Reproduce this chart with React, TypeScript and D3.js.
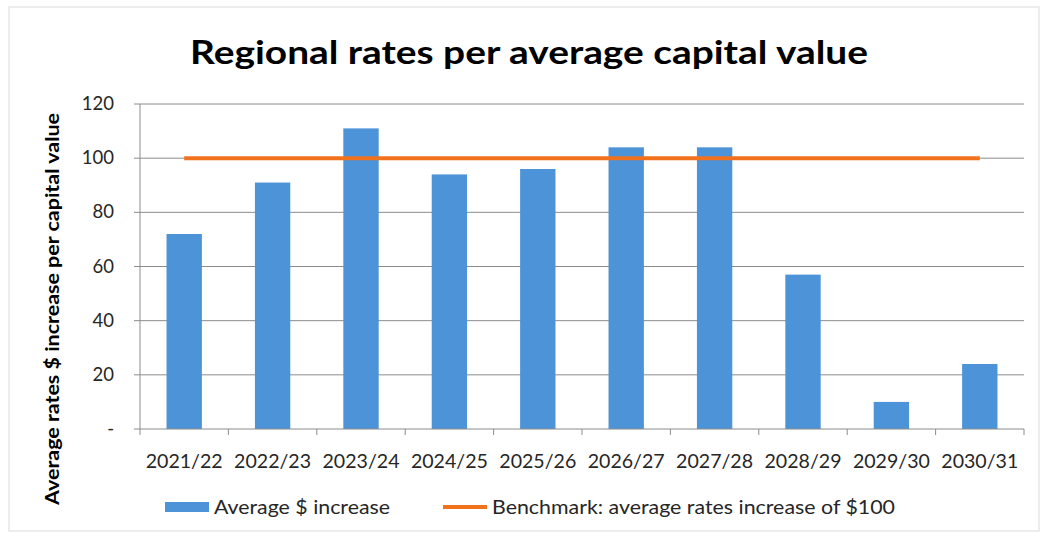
import React from "react";
import * as d3 from "d3";

const categories = ["2021/22", "2022/23", "2023/24", "2024/25", "2025/26", "2026/27", "2027/28", "2028/29", "2029/30", "2030/31"];
const averageIncrease = [72, 91, 111, 94, 96, 104, 104, 57, 10, 24];
const benchmark = [100, 100, 100, 100, 100, 100, 100, 100, 100, 100];
const yTicks = [0, 20, 40, 60, 80, 100, 120];
const titleText = "Regional rates per average capital value";
const yAxisTitle = "Average rates $ increase per capital value";
const legendLabels = ["Average $ increase", "Benchmark: average rates increase of $100"];

const W = 1042;
const H = 537;
const plot = { left: 140, right: 1024, top: 104, bottom: 429 };
const FONT = "Lato, 'Open Sans', sans-serif";
const BLUE = "#4d93d8";
const ORANGE = "#f0721d";
const TEXT = "#262626";

export default function App() {
  const x = d3.scaleBand<string>().domain(categories).range([plot.left, plot.right]).paddingInner(0.6).paddingOuter(0.3);
  const xb = d3.scaleBand<string>().domain(categories).range([plot.left, plot.right]);
  const y = d3.scaleLinear().domain([0, 120]).range([plot.bottom, plot.top]);
  const line = d3
    .line<number>()
    .x((_, i) => (xb(categories[i]) as number) + xb.bandwidth() / 2)
    .y((d) => y(d));

  return (
    <svg width={W} height={H} style={{ position: "absolute", left: 0, top: 0, background: "#fff" }} fontFamily={FONT}>
      <rect x={9} y={7} width={1030} height={524} fill="#fff" stroke="#e8e8e8" strokeWidth={1.5} />
      <text x={529} y={64} textAnchor="middle" fontSize={33} fontWeight="bold" fill="#000" textLength={678} lengthAdjust="spacingAndGlyphs">
        {titleText}
      </text>
      {/* gridlines */}
      {yTicks.filter((t) => t > 0).map((t) => (
        <line key={t} x1={plot.left} x2={plot.right} y1={y(t)} y2={y(t)} stroke="#8c8c8c" strokeWidth={1} />
      ))}
      {/* y axis */}
      <line x1={plot.left} x2={plot.left} y1={plot.top} y2={plot.bottom} stroke="#8c8c8c" />
      {yTicks.map((t) => (
        <g key={t}>
          <line x1={plot.left - 6} x2={plot.left} y1={y(t)} y2={y(t)} stroke="#8c8c8c" />
          <text x={114} y={y(t) + 6} textAnchor="end" fontSize={18.5} fill={TEXT}>
            {t === 0 ? "-" : t}
          </text>
        </g>
      ))}
      {/* bars */}
      {averageIncrease.map((v, i) => (
        <rect key={i} x={x(categories[i])} y={y(v)} width={x.bandwidth()} height={y(0) - y(v)} fill={BLUE} />
      ))}
      {/* x axis */}
      <line x1={plot.left} x2={plot.right} y1={plot.bottom} y2={plot.bottom} stroke="#8c8c8c" />
      {categories.map((c, i) => (
        <line key={"t" + i} x1={xb(c)} x2={xb(c)} y1={plot.bottom} y2={plot.bottom + 6} stroke="#8c8c8c" />
      ))}
      <line x1={plot.right} x2={plot.right} y1={plot.bottom} y2={plot.bottom + 6} stroke="#8c8c8c" />
      {categories.map((c) => (
        <text key={c} x={(xb(c) as number) + xb.bandwidth() / 2} y={468} textAnchor="middle" fontSize={19} fill={TEXT} textLength={77} lengthAdjust="spacingAndGlyphs">
          {c}
        </text>
      ))}
      {/* benchmark line */}
      <path d={line(benchmark) || ""} fill="none" stroke={ORANGE} strokeWidth={4} />
      {/* y axis title */}
      <text transform={`translate(59,${(113 + 505) / 2}) rotate(-90)`} textAnchor="middle" fontSize={18} fontWeight="bold" fill="#000" textLength={392} lengthAdjust="spacingAndGlyphs">
        {yAxisTitle}
      </text>
      {/* legend */}
      <rect x={165} y={502} width={44} height={10} fill={BLUE} />
      <text x={214} y={514} fontSize={19} fill={TEXT} textLength={176} lengthAdjust="spacingAndGlyphs">{legendLabels[0]}</text>
      <line x1={443} x2={487} y1={507} y2={507} stroke={ORANGE} strokeWidth={4} />
      <text x={492} y={514} fontSize={19} fill={TEXT} textLength={403} lengthAdjust="spacingAndGlyphs">{legendLabels[1]}</text>
    </svg>
  );
}
